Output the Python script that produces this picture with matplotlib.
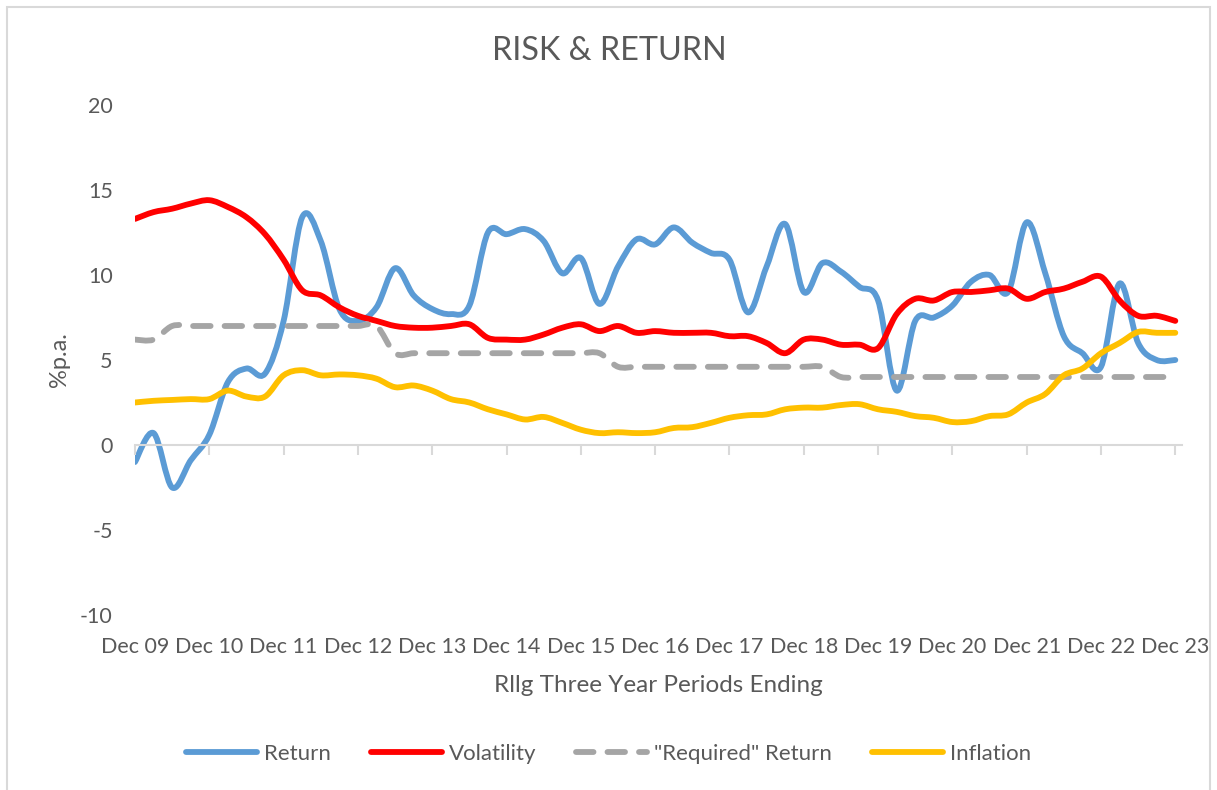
import matplotlib
matplotlib.use("Agg")
import matplotlib.pyplot as plt
from matplotlib.patches import Rectangle, PathPatch
from matplotlib.path import Path
from matplotlib.lines import Line2D
import numpy as np

# quarterly readings, Dec 09 .. Dec 23
year_labels = ["Dec 09", "Dec 10", "Dec 11", "Dec 12", "Dec 13", "Dec 14", "Dec 15",
               "Dec 16", "Dec 17", "Dec 18", "Dec 19", "Dec 20", "Dec 21", "Dec 22", "Dec 23"]

ret = [-1.0, 0.7, -2.5, -0.9, 0.6, 3.7, 4.5, 4.2, 7.3, 13.4, 12.0, 8.0, 7.3, 8.1, 10.4,
       8.8, 8.0, 7.7, 8.2, 12.5, 12.4, 12.7, 12.0, 10.1, 11.0, 8.3, 10.5, 12.1, 11.8, 12.8,
       11.9, 11.3, 10.9, 7.8, 10.5, 13.0, 9.0, 10.7, 10.2, 9.3, 8.5, 3.2, 7.3, 7.5, 8.2,
       9.6, 10.0, 9.0, 13.1, 10.1, 6.4, 5.4, 4.6, 9.5, 6.0, 5.0, 5.0]

vol = [13.3, 13.7, 13.9, 14.2, 14.4, 14.0, 13.4, 12.4, 10.9, 9.1, 8.8, 8.1, 7.6, 7.3, 7.0,
       6.9, 6.9, 7.0, 7.1, 6.3, 6.2, 6.2, 6.5, 6.9, 7.1, 6.7, 7.0, 6.6, 6.7, 6.6,
       6.6, 6.6, 6.4, 6.4, 6.0, 5.4, 6.2, 6.2, 5.9, 5.9, 5.7, 7.7, 8.6, 8.5, 9.0,
       9.0, 9.1, 9.2, 8.6, 9.0, 9.2, 9.6, 9.9, 8.5, 7.6, 7.6, 7.3]

req = [6.2, 6.2, 7.0, 7.0, 7.0, 7.0, 7.0, 7.0, 7.0, 7.0, 7.0, 7.0, 7.0, 7.0, 5.4,
       5.4, 5.4, 5.4, 5.4, 5.4, 5.4, 5.4, 5.4, 5.4, 5.4, 5.4, 4.6, 4.6, 4.6, 4.6,
       4.6, 4.6, 4.6, 4.6, 4.6, 4.6, 4.6, 4.6, 4.0, 4.0, 4.0, 4.0, 4.0, 4.0, 4.0,
       4.0, 4.0, 4.0, 4.0, 4.0, 4.0, 4.0, 4.0, 4.0, 4.0, 4.0, 4.0]

infl = [2.5, 2.6, 2.65, 2.7, 2.7, 3.2, 2.85, 2.85, 4.1, 4.4, 4.1, 4.15, 4.1, 3.9, 3.4,
        3.5, 3.2, 2.7, 2.5, 2.1, 1.8, 1.5, 1.65, 1.3, 0.9, 0.7, 0.75, 0.7, 0.75, 1.0,
        1.05, 1.3, 1.6, 1.75, 1.8, 2.1, 2.2, 2.2, 2.35, 2.4, 2.1, 1.95, 1.7, 1.6, 1.35,
        1.4, 1.7, 1.8, 2.5, 3.0, 4.1, 4.5, 5.4, 6.0, 6.65, 6.6, 6.6]

plt.rcParams["font.family"] = ["Lato", "DejaVu Sans"]
plt.rcParams["axes.unicode_minus"] = False
txt = "#595959"
grid_c = "#D9D9D9"


def smooth_path(xs, ys):
    # Excel-style smoothed line: cubic Bezier segments through the data points
    p = np.column_stack([xs, ys]).astype(float)
    verts = [p[0]]
    codes = [Path.MOVETO]
    n = len(p)
    for i in range(n - 1):
        p0 = p[max(i - 1, 0)]
        p1, p2 = p[i], p[i + 1]
        p3 = p[min(i + 2, n - 1)]
        verts += [p1 + (p2 - p0) / 6, p2 - (p3 - p1) / 6, p2]
        codes += [Path.CURVE4] * 3
    return Path(verts, codes)


fig = plt.figure(figsize=(12.17, 7.9), dpi=100)
fig.patches.append(Rectangle((7 / 1217, -0.1), (1210 - 7) / 1217, 1.1 - 7 / 790,
                             transform=fig.transFigure, fill=False, edgecolor=grid_c, lw=1.5))

ax = fig.add_axes([135 / 1217, 1 - 615 / 790, (1182 - 135) / 1217, (615 - 105) / 790])
x = np.arange(len(ret))

lw = 4.2
series = [
    (ret, "#5B9BD5", "-", "Return"),
    (vol, "#FF0000", "-", "Volatility"),
    (req, "#A5A5A5", (0, (3.0, 2.4)), '"Required" Return'),
    (infl, "#FFC000", "-", "Inflation"),
]
handles = []
for ys, col, ls, name in series:
    ax.add_patch(PathPatch(smooth_path(x, ys), fill=False, edgecolor=col, lw=lw,
                           linestyle=ls, capstyle="round", joinstyle="round"))
    h = Line2D([], [], color=col, lw=lw, linestyle=ls, label=name)
    h.set_dash_capstyle("round")
    h.set_solid_capstyle("round")
    handles.append(h)

ax.set_xlim(0, 56.36)
ax.set_ylim(-10, 20)
ax.set_yticks([-10, -5, 0, 5, 10, 15, 20])
ax.tick_params(axis="y", length=0, labelsize=15.5, labelcolor=txt, pad=16)

# axis line with ticks at zero, labels kept at the bottom
ax.spines["bottom"].set_position(("data", 0))
ax.spines["bottom"].set_color(grid_c)
ax.spines["bottom"].set_linewidth(1.5)
ax.set_xticks(x[::4])
ax.tick_params(axis="x", direction="out", length=7, width=1.5, color=grid_c, labelbottom=False)
for s in ["left", "right", "top"]:
    ax.spines[s].set_visible(False)

sec = ax.secondary_xaxis("bottom")
sec.set_xticks(x[::4])
sec.set_xticklabels(year_labels)
sec.spines["bottom"].set_visible(False)
sec.tick_params(axis="x", length=0, labelsize=15.5, labelcolor=txt, pad=16)

fig.text(658 / 1217, 1 - 685 / 790, "Rllg Three Year Periods Ending", ha="center", va="center",
         fontsize=17.5, color=txt)
ax.set_ylabel("%p.a.", fontsize=17, color=txt)
ax.yaxis.set_label_coords(-0.062, 0.5)
fig.text(609 / 1217, 1 - 51 / 790, "RISK & RETURN", ha="center", va="center", fontsize=23.3, color=txt)

fig.legend(handles=handles, loc="center", bbox_to_anchor=(0.5, 1 - 754 / 790), ncol=4,
           frameon=False, fontsize=16, labelcolor=txt, handlelength=3.2,
           handletextpad=0.3, columnspacing=1.8)

fig.savefig("out.png", dpi=100)
